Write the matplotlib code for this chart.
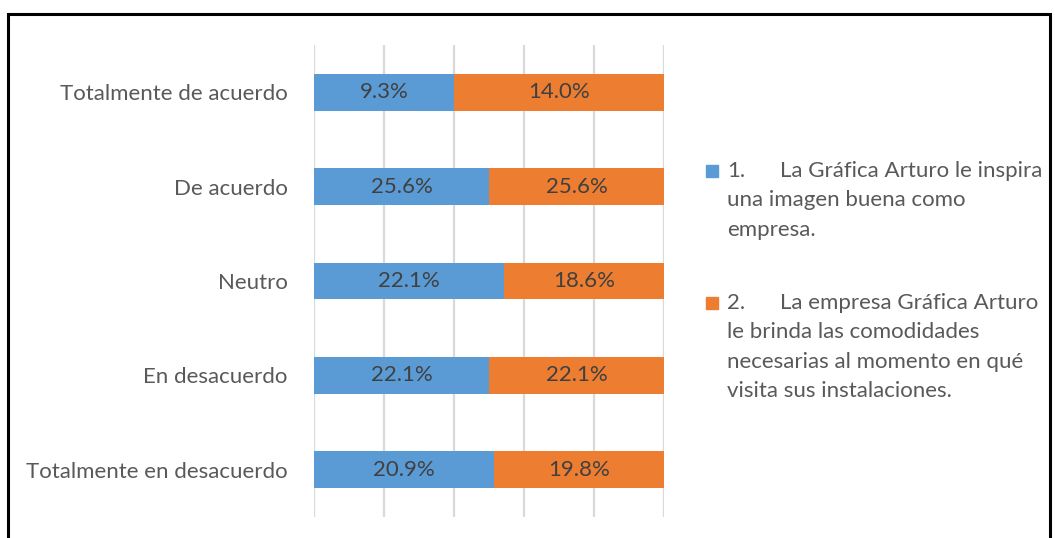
import matplotlib
matplotlib.use("Agg")
import matplotlib.pyplot as plt
from matplotlib.patches import Rectangle
import numpy as np

categories = ["Totalmente de acuerdo", "De acuerdo", "Neutro", "En desacuerdo",
              "Totalmente en desacuerdo"]
serie1 = [9.3, 25.6, 22.1, 22.1, 20.9]
serie2 = [14.0, 25.6, 18.6, 22.1, 19.8]
legend_numbers = ["1.", "2."]
legend_lines = [
    ["La Gráfica Arturo le inspira", "una imagen buena como", "empresa."],
    ["La empresa Gráfica Arturo", "le brinda las comodidades",
     "necesarias al momento en qué", "visita sus instalaciones."],
]
colors = ["#5B9BD5", "#ED7D31"]

plt.rcParams["font.family"] = ["Lato", "DejaVu Sans"]
W, H = 1055, 538
FS = 16
fig = plt.figure(figsize=(W / 100, H / 100), dpi=100)

# chart border
fig.patches.append(Rectangle((8 / W, -0.05), (1050 - 8) / W, (H - 14) / H + 0.05,
                             transform=fig.transFigure, fill=False,
                             edgecolor="#000000", linewidth=2.2))

ax = fig.add_axes([314 / W, 1 - 517 / H, 350 / W, 472 / H])

s1 = np.array(serie1)
s2 = np.array(serie2)
tot = s1 + s2
p1 = s1 / tot
p2 = s2 / tot
y = np.arange(len(categories))

for gx in np.linspace(0, 1, 6):
    ax.axvline(gx, color="#D9D9D9", linewidth=1.6, zorder=0)

b1 = ax.barh(y, p1, height=0.39, color=colors[0], zorder=2)
b2 = ax.barh(y, p2, left=p1, height=0.39, color=colors[1], zorder=2)
ax.bar_label(b1, labels=[f"{v:.1f}%" for v in serie1], label_type="center",
             color="#404040", fontsize=FS)
ax.bar_label(b2, labels=[f"{v:.1f}%" for v in serie2], label_type="center",
             color="#404040", fontsize=FS)

ax.set_xlim(0, 1)
ax.set_ylim(len(categories) - 0.5, -0.5)
ax.set_yticks(y)
ax.set_yticklabels(categories, color="#595959", fontsize=FS)
ax.tick_params(axis="y", length=0, pad=19)
ax.set_xticks([])
for sp in ax.spines.values():
    sp.set_visible(False)

# legend, drawn line by line
entry_first = [171, 303]
step = 29.3
for num, lines, col, y0 in zip(legend_numbers, legend_lines, colors, entry_first):
    fig.patches.append(Rectangle((706 / W, 1 - (y0 + 6) / H), 12 / W, 12 / H,
                                 transform=fig.transFigure, color=col))
    fig.text(727 / W, 1 - y0 / H, num, ha="left", va="center",
             color="#595959", fontsize=FS)
    for i, line in enumerate(lines):
        x0 = 780 if i == 0 else 727
        fig.text(x0 / W, 1 - (y0 + i * step) / H, line, ha="left", va="center",
                 color="#595959", fontsize=FS)

fig.savefig("out.png", dpi=100, facecolor="white")
